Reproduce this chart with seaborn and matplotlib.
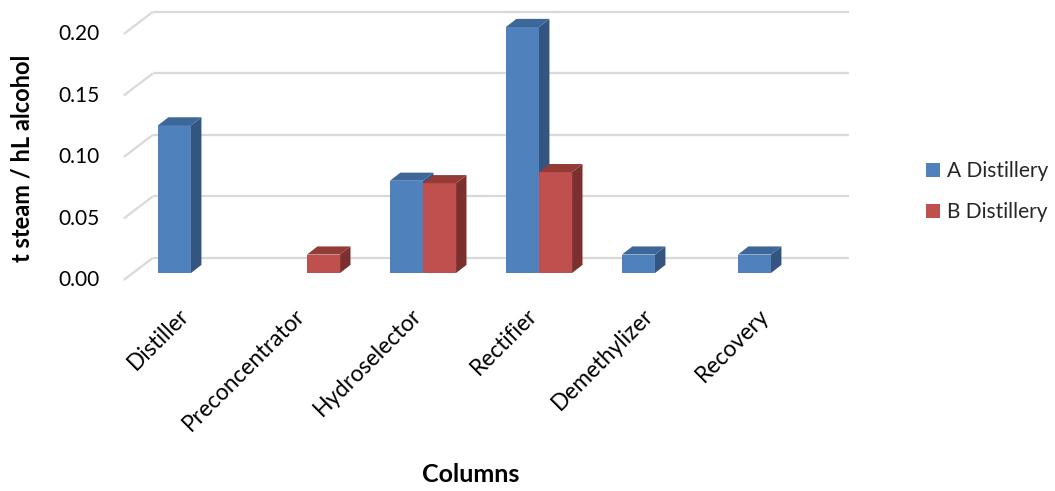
import numpy as np
import pandas as pd
import matplotlib
matplotlib.use("Agg")
import matplotlib.pyplot as plt
from matplotlib.patches import Polygon, Patch
from matplotlib.colors import to_hex
from matplotlib.transforms import ScaledTranslation
import seaborn as sns

# ---- data -------------------------------------------------------------
columns = ["Distiller", "Preconcentrator", "Hydroselector",
           "Rectifier", "Demethylizer", "Recovery"]
a_distillery = [0.12, np.nan, 0.075, 0.20, 0.015, 0.015]
b_distillery = [np.nan, 0.015, 0.073, 0.082, np.nan, np.nan]
series_names = ["A Distillery", "B Distillery"]
y_ticks = [0.00, 0.05, 0.10, 0.15, 0.20]

df = pd.DataFrame({
    "column": columns * 2,
    "steam": a_distillery + b_distillery,
    "distillery": [series_names[0]] * len(columns) + [series_names[1]] * len(columns),
})

# ---- style ------------------------------------------------------------
sns.set_theme(style="white")
plt.rcParams["font.family"] = ["Lato", "DejaVu Sans"]
TEXT = "#000000"

front = {"A Distillery": "#4F81BD", "B Distillery": "#C0504D"}
top_c = {"#4f81bd": "#3D6799", "#c0504d": "#943A37"}
side_c = {"#4f81bd": "#34557F", "#c0504d": "#7B302E"}

# depth offsets (category units, data units) for the pseudo-3D look
DX, DY = 0.090, 0.0066      # bar extrusion
WX, WY = 0.170, 0.0122      # back wall
FX, FY = -0.080, -0.0057    # front edge of the floor

fig = plt.figure(figsize=(10.55, 4.91), dpi=100)
ax = fig.add_axes([133 / 1055, 218 / 491, 696 / 1055, 246 / 491])

sns.barplot(data=df, x="column", y="steam", hue="distillery",
            order=columns, hue_order=series_names, palette=front,
            width=0.57, errorbar=None, saturation=1, legend=False, ax=ax)

ax.set_xlim(-0.5, 5.5)
ax.set_ylim(0, 0.2)
for s in ax.spines.values():
    s.set_visible(False)
ax.set_yticks([])

# gridlines on the back wall plus the left wall diagonals
grid_kw = dict(color="#D9D9D9", lw=1.6, zorder=1, clip_on=False,
               solid_capstyle="butt")
for v in y_ticks:
    ax.plot([-0.5 + WX, 5.5 + WX], [v + WY, v + WY], **grid_kw)
    ax.plot([-0.5 + FX, -0.5 + WX], [v + FY, v + WY], **grid_kw)
    ax.text(-0.5 + FX - 0.205, v + FY, f"{v:.2f}", ha="right",
            va="center", fontsize=15, color=TEXT)

# extrude each bar: side and top faces, painted left to right
bars = [p for p in ax.patches if np.isfinite(p.get_height()) and p.get_height() > 0]
bars.sort(key=lambda p: p.get_x())
for i, p in enumerate(bars):
    x0, w, h = p.get_x(), p.get_width(), p.get_height()
    key = to_hex(p.get_facecolor())
    z = 3 + 3 * i
    p.set_zorder(z)
    p.set_clip_on(False)
    p.set_edgecolor("none")
    side = Polygon([(x0 + w, 0), (x0 + w + DX, DY), (x0 + w + DX, h + DY), (x0 + w, h)],
                   closed=True, fc=side_c[key], ec="none", zorder=z + 1, clip_on=False)
    top = Polygon([(x0, h), (x0 + w, h), (x0 + w + DX, h + DY), (x0 + DX, h + DY)],
                  closed=True, fc=top_c[key], ec="none", zorder=z + 2, clip_on=False)
    ax.add_patch(side)
    ax.add_patch(top)

# category labels
ax.set_xticks(range(len(columns)))
ax.set_xticklabels(columns, rotation=45, ha="right", va="center",
                   rotation_mode="anchor", fontsize=16.3, color=TEXT)
ax.tick_params(axis="x", length=0, pad=28)
shift = ScaledTranslation(-5 / 100, 0, fig.dpi_scale_trans)
for lbl in ax.get_xticklabels():
    lbl.set_transform(lbl.get_transform() + shift)

ax.set_xlabel("Columns", fontsize=18, fontweight="bold", color=TEXT, va="center")
ax.xaxis.set_label_coords(471 / 1055, 1 - 475 / 491, transform=fig.transFigure)
ax.set_ylabel("t steam / hL alcohol", fontsize=17, fontweight="bold",
              color=TEXT, va="center")
ax.yaxis.set_label_coords(22 / 1055, 1 - 158 / 491, transform=fig.transFigure)

handles = [Patch(facecolor=front[n], edgecolor="none") for n in series_names]
fig.legend(handles, series_names, loc="center left",
           bbox_to_anchor=(926 / 1055, 1 - 191.5 / 491),
           bbox_transform=fig.transFigure, frameon=False, fontsize=15,
           borderpad=0, borderaxespad=0, handlelength=0.67, handleheight=0.67,
           handletextpad=0.34, labelspacing=1.0)

fig.savefig("out.png", dpi=100, facecolor="white")
